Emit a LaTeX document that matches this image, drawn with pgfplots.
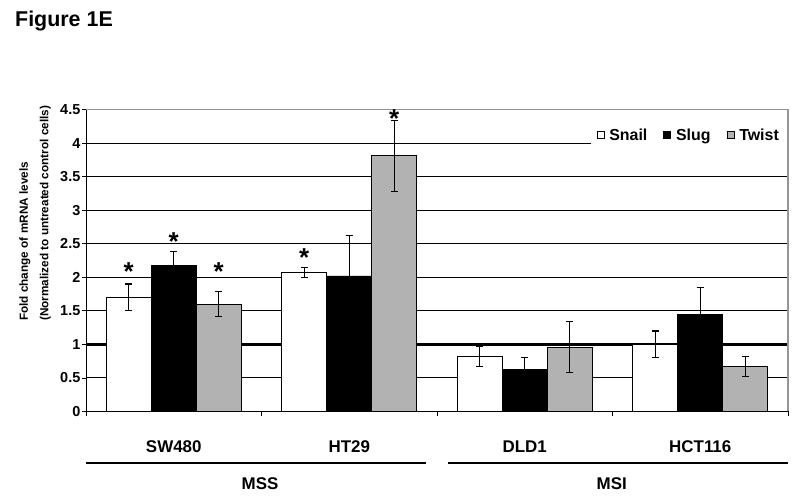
\documentclass[border=0pt]{standalone}
\usepackage{fontspec}
\setmainfont{Liberation Sans}
\usepackage{pgfplots}
\pgfplotsset{compat=1.18}
\definecolor{twistgray}{RGB}{178,178,178}
\definecolor{bordergray}{RGB}{150,150,150}
\begin{document}
\begin{tikzpicture}[x=1bp,y=1bp]
\path[use as bounding box] (0,0) rectangle (800,498);
\node[anchor=base west, inner sep=0, font=\fontsize{21.5}{21.5}\selectfont\bfseries] at (15,471.3) {Figure 1E};
\node[rotate=90, anchor=west, align=left, inner sep=0, font=\fontsize{11.8}{20.5}\selectfont\bfseries] at (35,177) {Fold change of mRNA levels\\(Normalized to untreated control cells)};
\begin{axis}[
  at={(86bp,86.5bp)}, anchor=south west,
  scale only axis, width=702bp, height=302bp,
  xmin=-0.5, xmax=3.5, ymin=0, ymax=4.5,
  clip=false,
  axis line style={black, line width=0.9bp},
  tick align=outside, major tick length=4.5bp, tick pos=left,
  tick style={black, line width=0.8bp},
  xtick={-0.5,0.5,1.5,2.5,3.5}, xticklabels={},
  extra x ticks={0,1,2,3},
  extra x tick labels={SW480,HT29,DLD1,HCT116},
  extra x tick style={grid=none, major tick length=0pt,
    tick label style={anchor=base, yshift=-41.3bp, font=\fontsize{17}{17}\selectfont\bfseries}},
  ytick={0,0.5,1.5,2,2.5,3,3.5,4,4.5},
  yticklabels={0,0.5,1.5,2,2.5,3,3.5,4,4.5},
  extra y ticks={1}, extra y tick labels={1},
  extra y tick style={grid=major, grid style={line width=2.5bp, black}},
  ymajorgrids, grid style={line width=0.9bp, black},
  yticklabel style={font=\fontsize{14.5}{14.5}\selectfont\bfseries, inner sep=1bp},
  legend style={at={(axis description cs:0.9986,0.9156)}, anchor=east, draw=none, fill=white,
    legend columns=3, font=\fontsize{16}{16}\selectfont\bfseries, inner xsep=6bp, inner ysep=4bp,
    /tikz/every even column/.append style={column sep=14bp}},
  legend image code/.code={\draw[#1, line width=0.6bp] (0bp,-3.5bp) rectangle (7bp,3.5bp); \path (10bp,0bp);},
]
\addplot[ybar, bar width=45bp, bar shift=-45bp, fill=white, draw=black, line width=0.8bp]
  coordinates {(0,1.70) (1,2.07) (2,0.82) (3,1.00)};
\addlegendentry{Snail}
\addplot[ybar, bar width=45bp, bar shift=0bp, fill=black, draw=black, line width=0.8bp]
  coordinates {(0,2.17) (1,2.02) (2,0.62) (3,1.45)};
\addlegendentry{Slug}
\addplot[ybar, bar width=45bp, bar shift=45bp, fill=twistgray, draw=black, line width=0.8bp]
  coordinates {(0,1.60) (1,3.81) (2,0.96) (3,0.67)};
\addlegendentry{Twist}
% error bars (at the bar centres)
\addplot[draw=none, mark=none, forget plot,
  error bars/.cd, y dir=both, y explicit, error mark=-,
  error bar style={line width=1.1bp, black},
  error mark options={rotate=90, mark size=3.5bp, line width=1.1bp, black}]
  coordinates {(-0.2564,1.70) +- (0,0.20) (0.7436,2.07) +- (0,0.08) (1.7436,0.82) +- (0,0.155) (2.7436,1.00) +- (0,0.20)
               (0,2.17) +- (0,0.21) (1,2.02) +- (0,0.60) (2,0.62) +- (0,0.19) (3,1.45) +- (0,0.40)
               (0.2564,1.60) +- (0,0.19) (1.2564,3.81) +- (0,0.53) (2.2564,0.96) +- (0,0.38) (3.2564,0.67) +- (0,0.15)};
\addplot[only marks, mark=text, text mark={*}, text mark as node=true,
  text mark style={font=\fontsize{26}{26}\selectfont\bfseries, anchor=center, inner sep=0pt, yshift=-5.5bp},
  forget plot]
  coordinates {(-0.2564,2.16) (0,2.62) (0.2564,2.16) (0.7436,2.37) (1.2564,4.44)};
\draw[bordergray, line width=1.2bp] (rel axis cs:0,1) -- (rel axis cs:1,1) -- (rel axis cs:1,0);
\end{axis}
\draw[line width=2bp] (86,34.7) -- (425.7,34.7);
\draw[line width=2bp] (448.3,34.7) -- (788.3,34.7);
\node[anchor=base, inner sep=0, font=\fontsize{17}{17}\selectfont\bfseries] at (260,8.6) {MSS};
\node[anchor=base, inner sep=0, font=\fontsize{17}{17}\selectfont\bfseries] at (611.7,8.6) {MSI};
\end{tikzpicture}
\end{document}
